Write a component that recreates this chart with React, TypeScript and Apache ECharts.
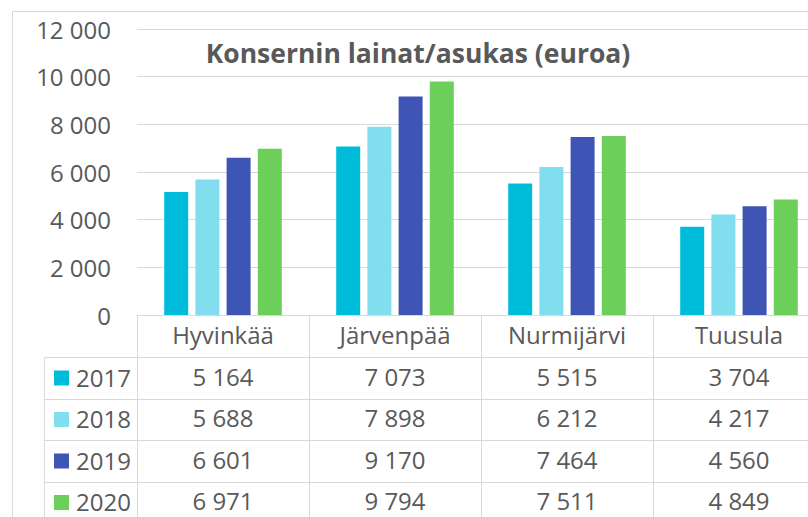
import React, { useEffect, useRef } from "react";
import * as echarts from "echarts";

const categories = ["Hyvinkää", "Järvenpää", "Nurmijärvi", "Tuusula"];
const years = ["2017", "2018", "2019", "2020"];
const values2017 = [5164, 7073, 5515, 3704];
const values2018 = [5688, 7898, 6212, 4217];
const values2019 = [6601, 9170, 7464, 4560];
const values2020 = [6971, 9794, 7511, 4849];
const seriesValues = [values2017, values2018, values2019, values2020];
const yMin = 0;
const yMax = 12000;
const yInterval = 2000;
const title = "Konsernin lainat/asukas (euroa)";

const colors = ["#00BCDB", "#80DEEE", "#3F55B5", "#6BCF5A"];
const textColor = "#595959";
const lineColor = "#D9D9D9";
const font = "'Open Sans', 'Noto Sans', sans-serif";

const fmt = (v: number) => String(v).replace(/\B(?=(\d{3})+(?!\d))/g, " ");

export default function App() {
  const ref = useRef<HTMLDivElement>(null);
  useEffect(() => {
    if (!ref.current) return;
    const chart = echarts.init(ref.current, null, { renderer: "svg" });
    const rowCenters = [378, 419.5, 461, 502.5];
    const rowLines = [357.5, 399.5, 440.5, 482.5];
    const graphics: any[] = [
      { type: "line", shape: { x1: 12.5, y1: 11.5, x2: 808, y2: 11.5 }, style: { stroke: lineColor, lineWidth: 1 } },
      { type: "line", shape: { x1: 12.5, y1: 11.5, x2: 12.5, y2: 517 }, style: { stroke: lineColor, lineWidth: 1 } },
      { type: "line", shape: { x1: 44.5, y1: 357.5, x2: 44.5, y2: 517 }, style: { stroke: lineColor, lineWidth: 1 } },
    ];
    rowLines.forEach((y) =>
      graphics.push({ type: "line", shape: { x1: 44.5, y1: y, x2: 808, y2: y }, style: { stroke: lineColor, lineWidth: 1 } })
    );
    years.forEach((yr, i) => {
      graphics.push({
        type: "rect",
        shape: { x: 54, y: rowCenters[i] - 7.5, width: 15, height: 15 },
        style: { fill: colors[i] },
      });
      graphics.push({
        type: "text",
        x: 76,
        y: rowCenters[i] - 1,
        style: { text: yr, fill: textColor, font: `24px ${font}`, textVerticalAlign: "middle", verticalAlign: "middle" },
      });
    });
    graphics.push({
      type: "text",
      x: 418,
      y: 53,
      style: {
        text: title,
        fill: textColor,
        font: `bold 26.5px ${font}`,
        textAlign: "center",
        align: "center",
        verticalAlign: "middle",
        textVerticalAlign: "middle",
      },
    });

    chart.setOption({
      animation: false,
      grid: { left: 137, top: 29, width: 688, height: 286, containLabel: false, outerBoundsMode: "none" },
      xAxis: {
        type: "category",
        data: categories,
        axisLine: { show: true, lineStyle: { color: lineColor, width: 1 } },
        axisTick: { show: true, interval: 0, length: 210, lineStyle: { color: lineColor, width: 1 } },
        axisLabel: {
          interval: 0,
          margin: -1,
          color: textColor,
          fontFamily: font,
          fontSize: 24,
          lineHeight: 41.5,
          formatter: (value: string, index: number) =>
            [value, ...seriesValues.map((arr) => fmt(arr[index]))].join("\n"),
        },
      },
      yAxis: {
        type: "value",
        min: yMin,
        max: yMax,
        interval: yInterval,
        axisLine: { show: false },
        axisTick: { show: false },
        splitLine: { lineStyle: { color: lineColor, width: 1 } },
        axisLabel: { margin: 26, color: textColor, fontFamily: font, fontSize: 24, formatter: (v: number) => fmt(v) },
      },
      series: years.map((yr, i) => ({
        name: yr,
        type: "bar",
        data: seriesValues[i],
        barWidth: 24,
        barGap: "30%",
        itemStyle: { color: colors[i] },
      })),
      graphic: graphics,
    });
    return () => chart.dispose();
  }, []);
  return <div ref={ref} style={{ position: "fixed", left: 0, top: 0, width: 808, height: 517, background: "#fff" }} />;
}
